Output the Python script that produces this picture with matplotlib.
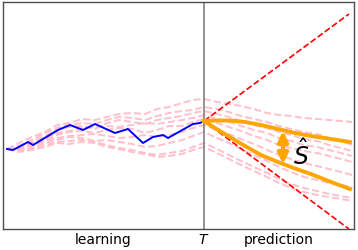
import numpy as np
import matplotlib.pyplot as plt

# time axis (arbitrary units), T = end of learning window
T = 10.05
t_end = 17.55

# observed trajectory (learning part)
t_obs = [0.2, 0.5, 1.25, 1.5, 2.75, 3.35, 4.0, 4.6, 5.6, 6.25, 7.0, 7.5, 8.0, 8.25, 9.5, 9.85, 10.05]
y_obs = [8.0, 7.9, 8.7, 8.4, 9.9, 10.4, 9.9, 10.5, 9.6, 10.0, 8.6, 9.2, 9.4, 9.1, 10.5, 10.6, 10.8]

# sample paths (pink dashed)
t_paths = [0.2, 0.8, 1.45, 2.1, 2.7, 3.3, 3.95, 4.6, 5.2, 5.8, 6.45, 7.1, 7.7, 8.3, 8.95, 9.5,
           10.05, 10.7, 11.3, 11.9, 12.55, 13.2, 13.8, 14.4, 15.05, 15.7, 16.3, 16.9, 17.45]
paths = [
    [8.0, 8.6, 9.2, 9.7, 10.4, 10.6, 11.0, 10.9, 11.2, 11.5, 11.6, 11.5, 12.0, 12.2, 12.6, 12.9,
     13.0, 12.7, 12.5, 12.3, 12.0, 11.6, 11.4, 11.3, 11.1, 11.0, 10.9, 10.8, 10.7],
    [8.0, 8.3, 8.9, 9.6, 10.1, 10.4, 10.6, 10.5, 10.9, 11.2, 11.1, 10.9, 11.3, 11.6, 11.8, 11.9,
     12.2, 12.0, 11.7, 11.3, 11.0, 10.7, 10.3, 10.0, 9.7, 9.5, 9.1, 8.8, 8.4],
    [8.0, 8.1, 8.7, 9.3, 9.9, 10.2, 10.3, 10.0, 10.6, 10.9, 10.7, 10.5, 10.9, 11.1, 11.3, 11.6,
     11.8, 11.5, 11.2, 10.8, 10.4, 10.1, 9.7, 9.4, 9.0, 8.8, 8.4, 8.1, 7.8],
    [8.0, 8.2, 8.5, 9.1, 9.6, 9.8, 10.1, 10.2, 10.3, 10.2, 10.4, 10.6, 10.5, 10.7, 10.9, 11.1,
     11.4, 11.0, 10.7, 10.3, 9.9, 9.6, 9.1, 8.8, 8.4, 8.2, 7.9, 7.6, 7.3],
    [8.0, 7.9, 8.4, 8.9, 9.4, 9.7, 9.8, 9.6, 9.9, 10.1, 10.0, 9.6, 9.9, 10.3, 10.3, 10.7,
     11.0, 10.6, 10.2, 9.8, 9.3, 8.9, 8.4, 8.1, 7.8, 7.6, 7.3, 7.0, 6.7],
    [8.0, 8.1, 8.3, 8.8, 9.1, 9.3, 9.4, 9.5, 9.3, 9.1, 9.2, 9.4, 9.2, 9.4, 9.7, 10.1,
     10.4, 9.9, 9.5, 9.0, 8.5, 7.9, 7.4, 7.0, 6.6, 6.3, 6.0, 5.7, 5.4],
    [8.0, 7.8, 8.1, 8.6, 8.9, 9.2, 9.1, 8.8, 8.9, 8.7, 8.5, 8.2, 8.3, 8.6, 8.9, 9.3,
     9.7, 9.1, 8.6, 8.0, 7.4, 6.8, 6.2, 5.7, 5.2, 4.9, 4.6, 4.4, 4.2],
    [8.0, 8.0, 8.0, 8.4, 8.7, 8.8, 8.9, 8.7, 8.4, 8.1, 7.9, 7.6, 7.4, 7.6, 7.8, 8.2,
     8.6, 8.0, 7.4, 6.8, 6.2, 5.6, 5.0, 4.5, 4.1, 3.8, 3.5, 3.3, 3.1],
    [8.0, 7.7, 7.9, 8.2, 8.6, 8.5, 8.7, 8.6, 8.2, 8.0, 7.7, 7.5, 7.2, 7.3, 7.5, 7.9,
     8.2, 7.6, 7.0, 6.4, 5.8, 5.2, 4.6, 4.1, 3.7, 3.4, 3.2, 3.0, 2.8],
]

# worst-case envelope (red dashed)
t_env = [10.05, 17.3]
y_env_hi = [10.8, 21.5]
y_env_lo = [10.8, 0.0]

# predicted bounds (orange)
t_up = [10.05, 10.7, 11.35, 12.1, 12.9, 13.75, 14.6, 15.4, 16.4, 17.35]
y_up = [10.8, 10.85, 10.85, 10.7, 10.4, 10.0, 9.6, 9.3, 9.0, 8.7]
t_lo = [10.05, 10.6, 11.25, 12.1, 12.9, 13.75, 14.6, 15.4, 16.4, 17.35]
y_lo = [10.8, 10.1, 9.3, 8.3, 7.4, 6.7, 6.05, 5.5, 4.7, 4.0]

# spread marker
t_arrow = 14.0
y_arrow = (9.8, 6.5)

fig = plt.figure(figsize=(3.58, 2.51), dpi=100)
ax = fig.add_axes([3 / 358, 21 / 251, 351 / 358, 227 / 251])

for p in paths:
    ax.plot(t_paths, p, color='pink', linestyle='--', linewidth=1.4, zorder=1)

ax.plot(t_obs, y_obs, color='blue', linewidth=1.4, zorder=3)
ax.axvline(T, color='gray', linewidth=1.2, zorder=2)
ax.plot(t_env, y_env_hi, color='red', linestyle='--', linewidth=1.2, zorder=2)
ax.plot(t_env, y_env_lo, color='red', linestyle='--', linewidth=1.2, zorder=2)
ax.plot(t_up, y_up, color='orange', linewidth=2.8, zorder=4)
ax.plot(t_lo, y_lo, color='orange', linewidth=2.8, zorder=4)

ax.annotate('', xy=(t_arrow, y_arrow[1]), xytext=(t_arrow, y_arrow[0]),
            arrowprops=dict(arrowstyle='<|-|>', color='orange', lw=3,
                            mutation_scale=15, shrinkA=0, shrinkB=0), zorder=5)
ax.text(14.9, 7.5, r'$\hat{S}$', fontsize=17, ha='center', va='center')

ax.set_xlim(0, t_end)
ax.set_ylim(0, 22.7)
ax.set_xticks([T / 2, T, (T + t_end) / 2])
ax.set_xticklabels(['learning', '$T$', 'prediction'], fontsize=10)
ax.set_yticks([])
ax.tick_params(axis='x', length=0, pad=2)
for s in ax.spines.values():
    s.set_color('0.3')
    s.set_linewidth(1.0)

fig.savefig('out.png', dpi=100)
